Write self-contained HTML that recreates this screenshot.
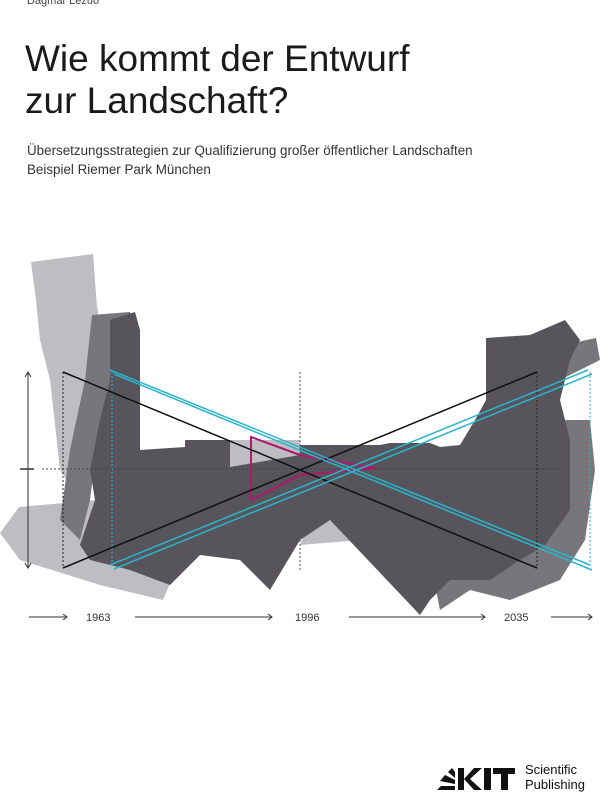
<!DOCTYPE html>
<html><head><meta charset="utf-8"><style>
body{margin:0;width:609px;height:800px;background:#fff;font-family:"Liberation Sans",sans-serif;position:relative;overflow:hidden;color:#222}
.t{position:absolute;white-space:nowrap}
</style></head><body>
<div class="t" style="left:27px;top:-5px;font-size:11px;color:#444">Dagmar Lezuo</div>
<div class="t" style="left:25px;top:38px;font-size:37px;line-height:42px;color:#1a1a1a">Wie kommt der Entwurf<br>zur Landschaft?</div>
<div class="t" style="left:27px;top:143px;font-size:13.4px;color:#333">Übersetzungsstrategien zur Qualifizierung großer öffentlicher Landschaften</div>
<div class="t" style="left:27px;top:162px;font-size:13.4px;color:#333">Beispiel Riemer Park München</div>
<svg width="609" height="800" style="position:absolute;left:0;top:0">
<g>
<polygon fill="#bebdc1" points="31,262 93,254 97,307 109,367 120,420 95,460 80,500 60,470 50,380 40,340 36,300"/>
<polygon fill="#bebdc1" points="0,533 19,507 97,500 187,543 163,600 100,585 20,560"/>
<polygon fill="#bebdc1" points="230,440 300,440 300,470 230,470"/>
<polygon fill="#bebdc1" points="310,520 340,515 360,540 300,545"/>
<polygon fill="#77767b" points="92,315 130,312 140,330 120,380 100,420 90,500 80,540 60,520 70,450 85,380"/>
<polygon fill="#77767b" points="520,420 590,420 595,470 585,540 560,580 510,600 470,590 440,610 430,560 500,520"/>
<polygon fill="#77767b" points="540,350 596,338 600,360 560,380"/>
<polygon fill="#57555b" points="110,320 135,312 140,330 140,450 185,447 185,440 230,440 230,467 300,455 300,445 380,445 390,443 430,443 440,447 460,445 475,420 486,400 486,338 530,335 565,320 580,340 570,360 560,400 570,440 570,510 545,545 520,560 490,580 450,580 430,600 420,615 330,520 300,540 270,590 240,560 200,555 170,585 130,570 90,560 80,545 95,500 90,470 100,420 110,380"/>
</g>
<g stroke-dasharray="2,2" stroke-width="1" fill="none">
<line x1="63" y1="372" x2="63" y2="568" stroke="#222"/>
<line x1="112" y1="372" x2="112" y2="568" stroke="#2ab4cc"/>
<line x1="300" y1="372" x2="300" y2="570" stroke="#555"/>
<line x1="537" y1="372" x2="537" y2="568" stroke="#222"/>
<line x1="590" y1="372" x2="590" y2="568" stroke="#2ab4cc"/>
<line x1="42" y1="469" x2="565" y2="469" stroke="#444"/>
</g>
<line x1="20" y1="469" x2="34" y2="469" stroke="#333" stroke-width="1.5"/>
<polyline fill="none" stroke="#b0186c" stroke-width="2" points="300,455 251,437 251,500 300,475 375,468 300,455"/>
<g stroke="#111" stroke-width="1.5"><line x1="63" y1="372" x2="537" y2="568"/><line x1="63" y1="568" x2="537" y2="372"/></g>
<g stroke="#2ab4cc" stroke-width="1.5">
<line x1="110" y1="370" x2="590" y2="565"/><line x1="114" y1="374" x2="592" y2="570"/>
<line x1="110" y1="565" x2="588" y2="370"/><line x1="114" y1="569" x2="592" y2="374"/>
</g>
<g stroke="#333" stroke-width="1" fill="none">
<line x1="28" y1="373" x2="28" y2="567"/><polyline points="25,377 28,372 31,377"/><polyline points="25,563 28,568 31,563"/>
<line x1="29" y1="617" x2="67" y2="617"/><polyline points="63,614 67,617 63,620"/>
<line x1="135" y1="617" x2="272" y2="617"/><polyline points="268,614 272,617 268,620"/>
<line x1="349" y1="617" x2="485" y2="617"/><polyline points="481,614 485,617 481,620"/>
<line x1="551" y1="617" x2="592" y2="617"/><polyline points="588,614 592,617 588,620"/>
</g>
<g font-family="Liberation Sans" font-size="11" fill="#333">
<text x="86" y="621">1963</text><text x="295" y="621">1996</text><text x="504" y="621">2035</text>
</g>
<g fill="#111">
<polygon points="437,790 455,790 455,786 441,786"/>
<polygon points="440,781 455,784 455,780 445,775"/>
<polygon points="448,772 455,778 455,772 452,768"/>
<rect x="458" y="768" width="6" height="22"/>
<polygon points="464,779 474,768 482,768 470,779 482,790 474,790"/>
<rect x="484" y="768" width="7" height="22"/>
<rect x="493" y="768" width="22" height="6"/><rect x="501" y="768" width="7" height="22"/>
</g>
</svg>
<div class="t" style="left:525px;top:762px;font-size:13px;line-height:15px;color:#111">Scientific<br>Publishing</div>
</body></html>
